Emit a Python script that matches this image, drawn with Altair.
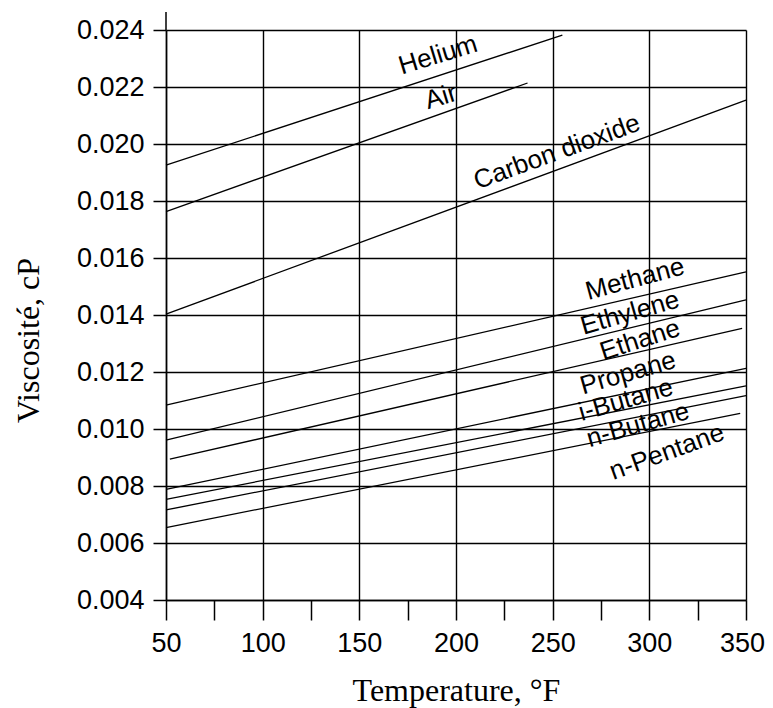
import altair as alt
import pandas as pd

# ---- data ----
gases = ["Helium", "Air", "Carbon dioxide", "Methane", "Ethylene", "Ethane",
         "Propane", "i-Butane", "n-Butane", "n-Pentane"]
t_start = [50, 50, 50, 50, 50, 52, 50, 50, 50, 50]
v_start = [0.01926, 0.01763, 0.01403, 0.01084, 0.00961, 0.00894, 0.00788, 0.00753, 0.00716, 0.00654]
t_end = [255, 237, 350, 350, 350, 348, 350, 350, 350, 347]
v_end = [0.02382, 0.02214, 0.02154, 0.01551, 0.01453, 0.01353, 0.01213, 0.01151, 0.01117, 0.01055]

# label anchor points (data units) and text angles
label_t = [190.7, 192.2, 252.2, 292.6, 290.0, 295.2, 289.0, 287.9, 294.1, 309.1]
label_v = [0.02312, 0.02165, 0.01972, 0.01526, 0.01407, 0.01312, 0.01196, 0.01102, 0.01014, 0.00919]
label_angle = [343, 343, 340, 345, 344, 342, 344, 344, 344, 340]

x_ticks = [50, 75, 100, 125, 150, 175, 200, 225, 250, 275, 300, 325, 350]
y_ticks = [0.004, 0.006, 0.008, 0.010, 0.012, 0.014, 0.016, 0.018, 0.020, 0.022, 0.024]
axis_top = 0.02463  # y-axis line runs a little above the frame

rows = []
for g, t0, v0, t1, v1 in zip(gases, t_start, v_start, t_end, v_end):
    rows.append({"gas": g, "T": t0, "V": v0})
    rows.append({"gas": g, "T": t1, "V": v1})
df_lines = pd.DataFrame(rows)
df_labels = pd.DataFrame({"gas": gases, "T": label_t, "V": label_v, "ang": label_angle})
df_ext = pd.DataFrame({"T": [x_ticks[0]], "V": [y_ticks[-1]], "V2": [axis_top]})

xscale = alt.Scale(domain=[50, 350], nice=False, zero=False)
yscale = alt.Scale(domain=[0.004, 0.024], nice=False, zero=False)

xaxis = alt.Axis(
    title="Temperature, °F",
    values=x_ticks,
    labelExpr="datum.value % 50 === 0 ? datum.label : ''",
    labelFlush=False,
    labelOffset={"condition": {"test": "datum.value === 350", "value": -4}, "value": 0},
    gridOpacity={"condition": {"test": "datum.value % 50 === 0", "value": 1}, "value": 0},
    grid=True, gridColor="black", gridWidth=1.4,
    domainColor="black", domainWidth=1.5,
    tickColor="black", tickWidth=1.5, tickSize=20,
    labelFont="Liberation Sans", labelFontSize=27, labelColor="black", labelPadding=10,
    titleFont="Liberation Serif", titleFontSize=32, titleFontWeight="normal", titleColor="black",
    titleBaseline="alphabetic", titleY=100,
)
yaxis = alt.Axis(
    title="Viscosité, cP",
    values=y_ticks, format=".3f",
    grid=True, gridColor="black", gridWidth=1.4,
    domainColor="black", domainWidth=1.5,
    tickColor="black", tickWidth=1.5, tickSize=13,
    labelFont="Liberation Sans", labelFontSize=27, labelColor="black", labelPadding=9,
    titleFont="Liberation Serif", titleFontSize=32, titleFontWeight="normal", titleColor="black",
    titleAngle=270, titleBaseline="alphabetic", titleAlign="center", titleX=-128, titleY=310,
)

lines = alt.Chart(df_lines).mark_line(color="black", strokeWidth=1.3).encode(
    x=alt.X("T:Q", scale=xscale, axis=xaxis),
    y=alt.Y("V:Q", scale=yscale, axis=yaxis),
    detail="gas:N",
)

labels = alt.Chart(df_labels).mark_text(
    font="Liberation Sans", fontSize=26, color="black", align="center", baseline="middle"
).encode(
    x=alt.X("T:Q", scale=xscale, axis=xaxis),
    y=alt.Y("V:Q", scale=yscale, axis=yaxis),
    text="gas:N",
    angle=alt.Angle("ang:Q", scale=None),
)

ext = alt.Chart(df_ext).mark_rule(color="black", strokeWidth=1.5).encode(
    x=alt.X("T:Q", scale=xscale, axis=xaxis),
    y=alt.Y("V:Q", scale=yscale, axis=yaxis),
    y2="V2:Q",
)

chart = alt.layer(lines, labels, ext).properties(
    width=580, height=570,
    autosize="none",
    padding={"left": 158, "top": 22, "right": 19, "bottom": 110},
    background="white",
).configure_view(strokeWidth=0)

chart.save("out.html", embed_options={"renderer": "svg", "actions": False})
